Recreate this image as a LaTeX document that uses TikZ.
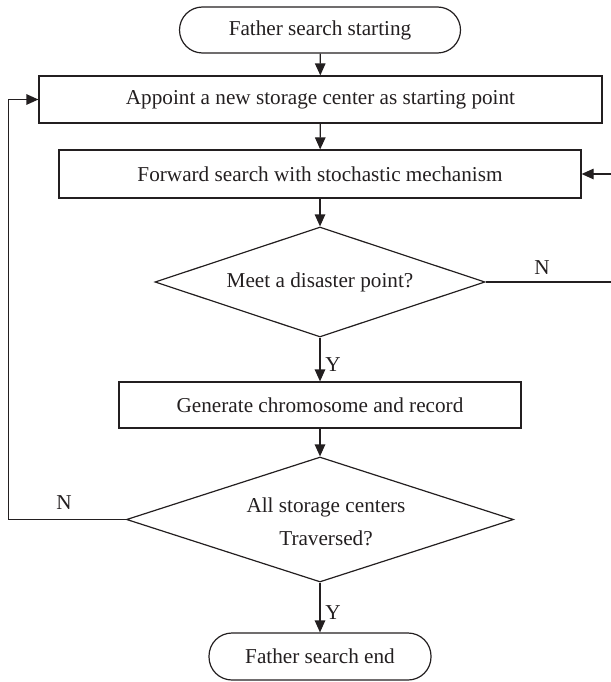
\documentclass[tikz,border=0pt]{standalone}
\usepackage{fontspec}
\setmainfont{Liberation Serif}
\usetikzlibrary{shapes.geometric,arrows.meta}
\definecolor{ink}{HTML}{231F20}
\begin{document}
\begin{tikzpicture}[x=1pt,y=-1pt,
  every node/.style={font=\fontsize{21.2}{24}\selectfont, text=ink},
  terminal/.style={draw=ink, line width=1.2pt, rounded corners=23pt, inner sep=0pt},
  process/.style={draw=ink, line width=1.2pt, inner sep=0pt},
  decision/.style={draw=ink, line width=1.2pt, diamond, inner sep=0pt},
  flow/.style={draw=ink, line width=1.2pt, -{Triangle[length=12pt,width=10.5pt]}},
  yn/.style={inner sep=0pt}]
  \useasboundingbox (0,0) rectangle (610,682);

  % main column
  \node[terminal, minimum width=281pt, minimum height=46pt] (start) at (320,30) {Father search starting};
  \node[process, minimum width=563pt, minimum height=47pt] (b1) at (320.5,99.5) {Appoint a new storage center as starting point};
  \node[process, minimum width=522pt, minimum height=48pt] (b2) at (320,174) {Forward search with stochastic mechanism};
  \node[decision, minimum width=330pt, minimum height=110pt,
        label={center:Meet a disaster point?}] (d1) at (320,282) {};
  \node[process, minimum width=402pt, minimum height=46pt] (b3) at (320,405) {Generate chromosome and record};
  \node[decision, minimum width=387pt, minimum height=125pt] (d2) at (320,519.5) {};
  \node[align=center, font=\fontsize{21.2}{33}\selectfont, inner sep=0pt] (d2text) at (326,522) {All storage centers\\Traversed?};
  \node[terminal, minimum width=222pt, minimum height=47pt] (end) at (320,656.5) {Father search end};

  % return rails (the right one runs just past the page edge)
  \coordinate (rightrail) at (616,0);
  \coordinate (leftrail) at (8.6,0);

  % connectors
  \draw[flow] (start) -- (b1);
  \draw[flow] (b1) -- (b2);
  \draw[flow] (b2) -- (d1.north);
  \draw[flow] (d1.south) -- (b3);
  \draw[flow] (b3) -- (d2.north);
  \draw[flow] (d2.south) -- (end);
  \draw[flow] (d1.east) -- (rightrail |- d1.east) -- (rightrail |- b2.east) -- (b2.east);
  \draw[flow] (d2.west) -- (leftrail |- d2.west) -- (leftrail |- b1.west) -- (b1.west);

  % branch labels
  \node[yn] (y1) at (333,365) {Y};
  \node[yn] (y2) at (333,613) {Y};
  \node[yn] (n1) at (542,268) {N};
  \node[yn] (n2) at (64,503) {N};
\end{tikzpicture}
\end{document}
